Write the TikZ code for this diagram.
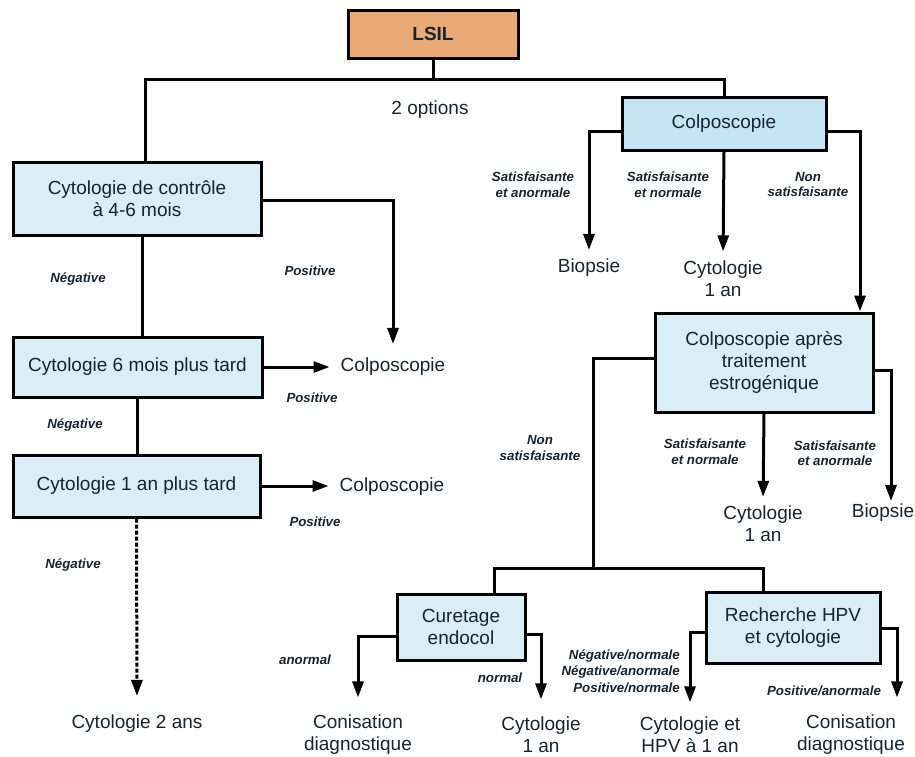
\documentclass[tikz,border=0pt]{standalone}
\usepackage{fontspec}
\setmainfont{Liberation Sans}
\usetikzlibrary{arrows.meta,calc}
\definecolor{lsilfill}{RGB}{233,170,120}
\definecolor{boxblue}{RGB}{218,238,248}
\definecolor{colpoblue}{RGB}{197,229,245}
\definecolor{txtcol}{RGB}{22,36,48}
\newcommand\bigfs{\fontsize{19}{22}\selectfont}
\newcommand\lblfs{\fontsize{13.3}{15.5}\selectfont\bfseries\itshape}
\tikzset{
  box/.style={draw, line width=3pt, fill=boxblue, align=center, font=\bigfs, text=txtcol, inner sep=0pt},
  txt/.style={font=\bigfs, align=center, text=txtcol, inner sep=1pt},
  lbl/.style={font=\lblfs, align=center, text=txtcol, inner sep=0pt},
  ln/.style={line width=3pt},
  arr/.style={line width=3pt, -{Triangle[length=16pt,width=11pt]}},
}
\begin{document}
\begin{tikzpicture}[x=1pt,y=-1pt]
\useasboundingbox (0,0) rectangle (915,756);
% boxes
\node[box, fill=lsilfill, minimum width=170pt, minimum height=48pt, font=\bigfs\bfseries] (lsil) at (433,34) {LSIL};
\node[box, fill=colpoblue, minimum width=204pt, minimum height=53pt] (colpo) at (724,123.5) {Colposcopie};
\node[box, minimum width=248pt, minimum height=73pt] (cyto1) at (137,198.5) {Cytologie de contrôle\\à 4-6 mois};
\node[box, minimum width=249pt, minimum height=60pt] (cyto6) at (137.5,367) {Cytologie 6 mois plus tard};
\node[box, minimum width=247pt, minimum height=62pt] (cyto1an) at (136.5,486) {Cytologie 1 an plus tard};
\node[box, minimum width=218pt, minimum height=99pt] (colpoap) at (764,362.5) {Colposcopie après\\traitement\\estrogénique};
\node[box, minimum width=128pt, minimum height=66pt] (cur) at (461,627) {Curetage\\endocol};
\node[box, minimum width=174pt, minimum height=71pt] (rech) at (793,627.5) {Recherche HPV\\et cytologie};
% plain texts
\node[txt] (opt) at (430,110) {2 options};
\node[txt] (biop1) at (589,268) {Biopsie};
\node[txt] (cytA) at (723,278.5) {Cytologie\\1 an};
\node[txt] (colR1) at (393,367) {Colposcopie};
\node[txt] (colR2) at (392,487) {Colposcopie};
\node[txt] (cyt2) at (137,724) {Cytologie 2 ans};
\node[txt] (cytB) at (763,524) {Cytologie\\1 an};
\node[txt] (biop2) at (883,513) {Biopsie};
\node[txt] (con1) at (358,734.5) {Conisation\\diagnostique};
\node[txt] (cytC) at (541,734.5) {Cytologie\\1 an};
\node[txt] (cytH) at (690,734.5) {Cytologie et\\HPV à 1 an};
\node[txt] (con2) at (851,734.5) {Conisation\\diagnostique};
% labels
\node[lbl] (l1) at (533,184.5) {Satisfaisante\\et anormale};
\node[lbl] (l2) at (668,184.5) {Satisfaisante\\et normale};
\node[lbl] (l3) at (808,184.5) {Non\\satisfaisante};
\node[lbl] (l4) at (310,271) {Positive};
\node[lbl] (l5) at (78,279) {Négative};
\node[lbl] (l6) at (312,398) {Positive};
\node[lbl] (l7) at (75,425) {Négative};
\node[lbl] (l8) at (315,522) {Positive};
\node[lbl] (l9) at (73,565) {Négative};
\node[lbl] (l10) at (540,448) {Non\\satisfaisante};
\node[lbl] (l11) at (705,451.5) {Satisfaisante\\et normale};
\node[lbl] (l12) at (835,453) {Satisfaisante\\et anormale};
\node[lbl] (l13) at (305,660) {anormal};
\node[lbl] (l14) at (500,678) {normal};
\node[lbl, align=right, anchor=east, font=\fontsize{13.3}{16.5}\selectfont\bfseries\itshape] (l15) at (680,671) {Négative/normale\\Négative/anormale\\Positive/normale};
\node[lbl] (l16) at (824,691) {Positive/anormale};
% connectors
\coordinate (s1) at (433,79);
\draw[ln] (lsil.south) -- (s1);
\draw[ln] ([xshift=8pt]cyto1.north) |- (s1) -| (colpo.north);
\draw[arr, shorten >=8pt] ([yshift=-7.5pt]colpo.west) -| (biop1.north);
\draw[arr, shorten >=8pt] (colpo.south) -- (cytA.north);
\draw[arr] ([yshift=-7.5pt]colpo.east) -| ([xshift=96pt]colpoap.north);
\draw[arr, shorten >=13pt] ([yshift=-1.5pt]cyto1.east) -| (colR1.north);
\draw[ln] ([xshift=5.5pt]cyto1.south) -- ([xshift=5.5pt]cyto1.south |- cyto6.north);
\draw[arr, shorten >=10pt] (cyto6.east) -- (cyto6.east -| colR1.west);
\draw[ln] (cyto6.south) -- (cyto6.south |- cyto1an.north);
\draw[arr, shorten >=10pt] (cyto1an.east) -- (cyto1an.east -| colR2.west);
\draw[arr, dash pattern=on 4pt off 2pt, shorten >=18pt] (cyto1an.south) -- (cyt2.north);
\coordinate (s2) at (593,568);
\draw[ln] ([yshift=4.5pt]colpoap.west) -| (s2);
\draw[ln] ([xshift=33pt]cur.north) |- (s2) -| ([xshift=-30pt]rech.north);
\draw[arr, shorten >=8pt] (colpoap.south) -- (cytB.north);
\draw[arr, shorten >=2pt] ([yshift=-7.5pt]colpoap.east) -| ([xshift=8pt]biop2.north);
\draw[arr, shorten >=16pt] ([yshift=-9pt]cur.west) -| (con1.north);
\draw[arr, shorten >=16pt] ([yshift=-7pt]cur.east) -| (cytC.north);
\draw[arr, shorten >=13pt] ([yshift=-4.5pt]rech.west) -| (cytH.north);
\draw[arr, shorten >=16pt] ([yshift=-0.5pt]rech.east) -| ([xshift=46pt]con2.north);
\end{tikzpicture}
\end{document}
